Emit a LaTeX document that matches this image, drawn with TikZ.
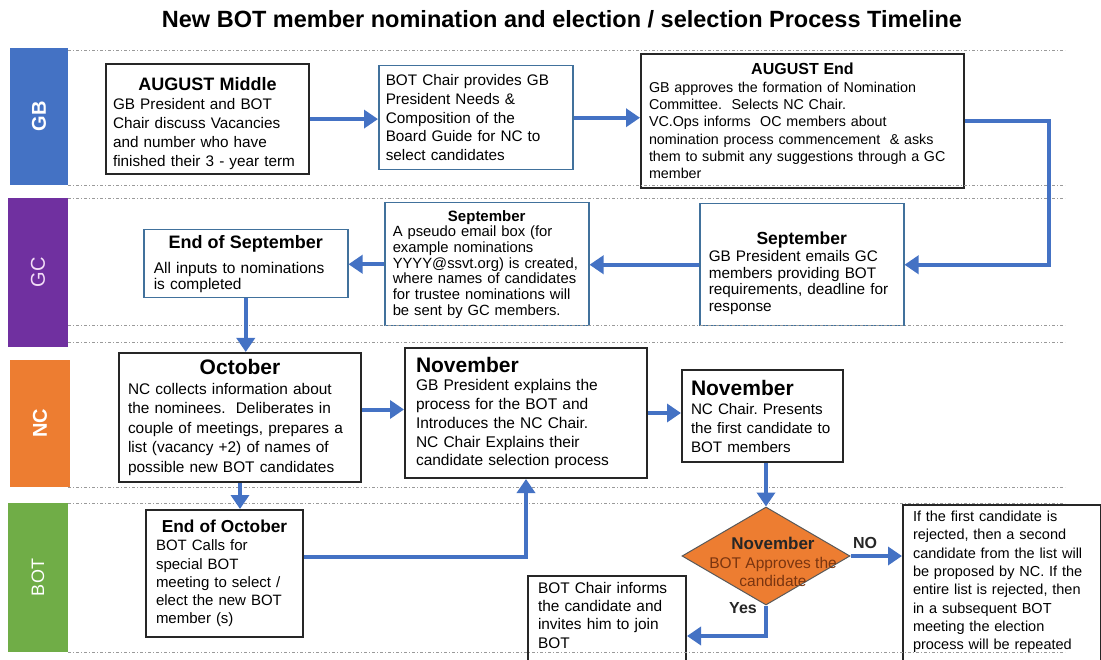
\documentclass[tikz,border=0pt]{standalone}
\usepackage{fontspec}
\setmainfont{Liberation Sans}
\usetikzlibrary{arrows.meta,shapes.geometric,calc}
\definecolor{laneblue}{HTML}{4472C4}
\definecolor{lanepurple}{HTML}{7030A0}
\definecolor{laneorange}{HTML}{ED7D31}
\definecolor{lanegreen}{HTML}{70AD47}
\definecolor{arrowblue}{HTML}{4472C4}
\definecolor{steelborder}{HTML}{41719C}
\definecolor{darkborder}{HTML}{262626}
\definecolor{sepgray}{HTML}{9A9A9A}
\definecolor{diatext}{HTML}{7A3510}
\definecolor{gcpink}{HTML}{F3DDF7}
\newcommand\myfs[2]{\fontsize{#1}{#2}\selectfont}
\newcommand\mytitle[1]{\hspace*{\fill}{#1}\hspace*{\fill}\mbox{}}
\frenchspacing
\tikzset{
 lane/.style={rotate=90, draw=none, text=white, font=\myfs{20}{24}, inner sep=0pt},
 blackbox/.style={draw=darkborder, line width=2pt, fill=white, anchor=north west, align=left, inner ysep=4pt},
 bluebox/.style={draw=steelborder, line width=1.5pt, fill=white, anchor=north west, align=left, inner ysep=4pt},
 conn/.style={draw=arrowblue, line width=4pt, -{Triangle[length=14pt,width=18pt]}},
 sepline/.style={draw=sepgray, line width=0.8pt, dash pattern=on 3pt off 2pt on 1pt off 2pt},
 lbl/.style={font=\myfs{16}{19}\bfseries, text=darkborder, inner sep=0pt}
}
\begin{document}
\begin{tikzpicture}[x=1pt,y=-1pt]
\useasboundingbox (0,0) rectangle (1101,660);
\clip (0,0) rectangle (1101,660);
\node[font=\myfs{23.5}{28}\bfseries, text=black] (title) at (562,19) {New BOT member nomination and election / selection Process Timeline};
% lanes
\node[lane, fill=laneblue, minimum width=137pt, minimum height=58pt, font=\myfs{20}{24}\bfseries] (lgb) at (39,116.5) {GB};
\node[lane, fill=lanepurple, minimum width=149pt, minimum height=60pt, text=gcpink] (lgc) at (38,272.5) {GC};
\node[lane, fill=laneorange, minimum width=127pt, minimum height=60pt, font=\myfs{20}{24}\bfseries] (lnc) at (40,423.5) {NC};
\node[lane, fill=lanegreen, minimum width=149pt, minimum height=60pt, font=\myfs{18}{22}] (lbot) at (38,577.5) {BOT};
% GB row
\node[blackbox, inner xsep=7pt, text width=189pt, minimum height=110pt, font=\myfs{15.3}{19}] (gb1) at (105,63) {\mytitle{\rule{0pt}{23pt}\myfs{18}{21}\bfseries AUGUST Middle}\\GB President and BOT\\Chair discuss Vacancies\\and number who have\\finished their 3 - year term};
\node[bluebox, inner xsep=7pt, text width=180pt, minimum height=104pt, font=\myfs{15.3}{18.7}] (gb2) at (378,65) {BOT Chair provides GB\\President Needs \&\\Composition of the\\Board Guide for NC to\\select candidates};
\node[blackbox, inner xsep=8pt, text width=307pt, minimum height=134pt, font=\myfs{14.3}{17.3}] (gb3) at (640,53) {\mytitle{\myfs{16}{19}\bfseries AUGUST End}\\GB approves the formation of Nomination\\Committee.\ \ Selects NC Chair.\\VC.Ops informs\ \ OC members about\\nomination process commencement\ \ \& asks\\them to submit any suggestions through a GC\\member};
% GC row
\node[bluebox, inner xsep=9pt, text width=186pt, minimum height=122pt, font=\myfs{15.3}{16.7}] (gc3) at (699,203) {\mytitle{\rule{0pt}{30pt}\myfs{17.5}{20}\bfseries September}\\GB President emails GC\\members providing BOT\\requirements, deadline for\\response};
\node[bluebox, inner xsep=8pt, text width=188pt, minimum height=123pt, font=\myfs{14.8}{15.7}] (gc2) at (384,202) {\mytitle{\myfs{15}{17}\bfseries September}\\A pseudo email box (for\\example nominations\\YYYY@ssvt.org) is created,\\where names of candidates\\for trustee nominations will\\be sent by GC members.};
\node[bluebox, inner xsep=10pt, text width=184pt, minimum height=68pt, font=\myfs{15.5}{15.5}] (gc1) at (143,229) {\mytitle{\myfs{18}{21}\bfseries End of September}\\[10pt]All inputs to nominations\\is completed};
% NC row
\node[blackbox, inner xsep=9pt, text width=224pt, minimum height=129pt, font=\myfs{15.4}{19.5}] (nc1) at (118,352) {\mytitle{\myfs{21}{24}\bfseries October}\\NC collects information about\\the nominees.\ \ Deliberates in\\couple of meetings, prepares a\\list (vacancy +2) of names of\\possible new BOT candidates};
\node[blackbox, inner xsep=11pt, text width=220pt, minimum height=130pt, font=\myfs{15.5}{18.7}] (nc2) at (404,347) {{\myfs{21}{24}\bfseries November}\\GB President explains the\\process for the BOT and\\Introduces the NC Chair.\\NC Chair Explains their\\candidate selection process};
\node[blackbox, inner xsep=9pt, text width=143pt, minimum height=92pt, font=\myfs{15.2}{19}] (nc3) at (681,369) {{\myfs{21}{24}\bfseries November}\\NC Chair. Presents\\the first candidate to\\BOT members};
% BOT row
\node[blackbox, inner xsep=10pt, text width=137pt, minimum height=127pt, font=\myfs{15}{18.3}] (bot1) at (145,509) {\mytitle{\myfs{17.3}{20}\bfseries End of October}\\BOT Calls for\\special BOT\\meeting to select /\\elect the new BOT\\member (s)};
\node[blackbox, inner xsep=10pt, text width=138pt, font=\myfs{15.4}{18.3}, inner ysep=6pt] (bc) at (527,575) {BOT Chair informs\\the candidate and\\invites him to join\\BOT\\\strut\\\strut};
\node[blackbox, inner xsep=10pt, text width=178pt, font=\myfs{14.5}{18.3}, inner ysep=6pt] (rb) at (902,504) {If the first candidate is\\rejected, then a second\\candidate from the list will\\be proposed by NC. If the\\entire list is rejected, then\\in a subsequent BOT\\meeting the election\\process will be repeated\\\strut};
\node[diamond, draw=gray!70!black, line width=1pt, fill=laneorange, minimum width=168pt, minimum height=98pt, inner sep=0pt] (dia) at (766,556) {};
\node[align=center, font=\myfs{15.5}{18.5}, inner sep=0pt] (diat) at (773,562) {{\bfseries\myfs{17}{18.5}\color{darkborder}November}\\\textcolor{diatext}{BOT Approves the}\\\textcolor{diatext}{candidate}};
% separators
\foreach \yy in {50,185,198,325,342,487,503,652} \draw[sepline] (68,\yy) -- (1065,\yy);
% connectors
\draw[conn] (gb1.east) -- (gb1.east -| gb2.west);
\draw[conn] (gb2.east) -- (gb2.east -| gb3.west);
\draw[conn] (gb3.east) -- ++(84,0) |- (gc3.east);
\draw[conn] (gc3.west) -- (gc3.west -| gc2.east);
\draw[conn] (gc2.west) -- (gc2.west -| gc1.east);
\draw[conn] (gc1.south) -- (gc1.south |- nc1.north);
\draw[conn] ([yshift=8pt]nc1.east) -- ([yshift=8pt]nc1.east -| nc2.west);
\draw[conn] (nc2.east) -- (nc2.east -| nc3.west);
\draw[conn] (nc3.south -| dia.north) -- (dia.north);
\draw[conn] (nc1.south) -- (nc1.south |- bot1.north);
\draw[conn] ([yshift=17pt]bot1.east) -| (nc2.south);
\draw[conn] (dia.east) -- (dia.east -| rb.west);
\coordinate (yesturn) at (766,636);
\draw[conn] (dia.south) -- (yesturn) -- (yesturn -| bc.east);
\node[lbl] (nolbl) at (865,543) {NO};
\node[lbl] (yeslbl) at (743,608) {Yes};
\end{tikzpicture}
\end{document}
